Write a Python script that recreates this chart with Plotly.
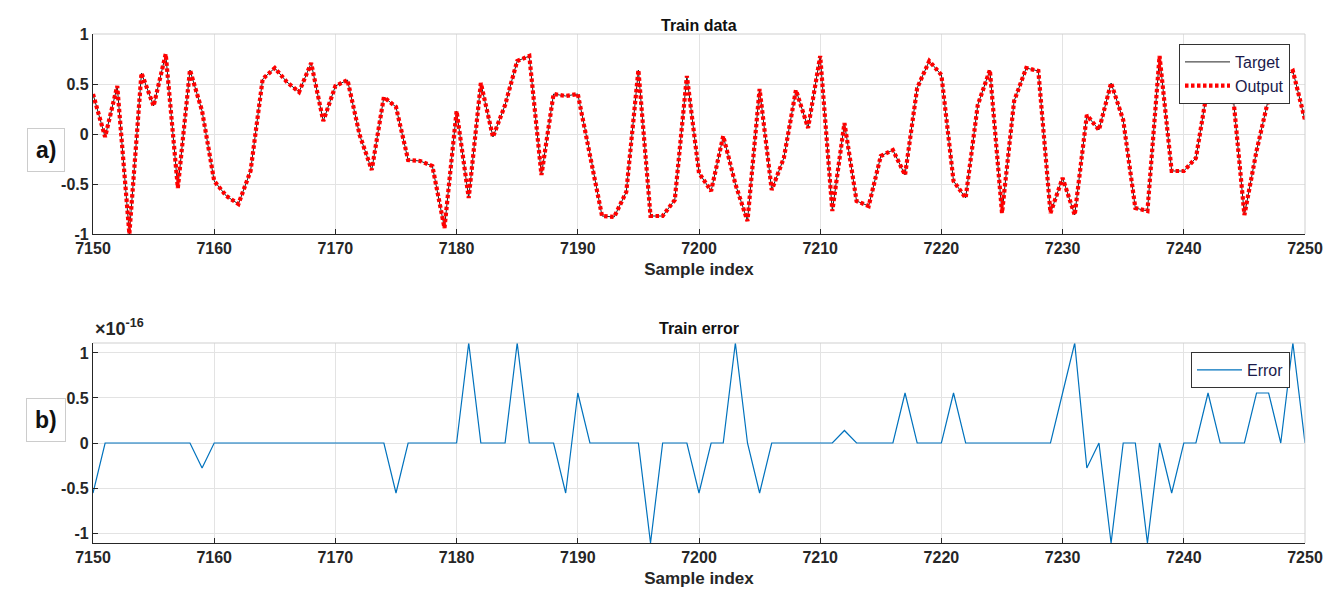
import plotly.graph_objects as go

# ---------------- data ----------------
sample_index = list(range(7150, 7251))

target = [
    0.40, -0.03, 0.48, -1.00, 0.61, 0.28, 0.80, -0.54, 0.64, 0.23,   # 7150-7159
    -0.47, -0.62, -0.70, -0.37, 0.55, 0.66, 0.52, 0.42, 0.71, 0.13,  # 7160-7169
    0.48, 0.54, -0.01, -0.36, 0.37, 0.27, -0.26, -0.27, -0.32, -0.94, # 7170-7179
    0.23, -0.64, 0.51, -0.03, 0.29, 0.73, 0.78, -0.41, 0.40, 0.38,   # 7180-7189
    0.40, -0.19, -0.82, -0.83, -0.58, 0.64, -0.82, -0.82, -0.66, 0.58, # 7190-7199
    -0.39, -0.57, -0.02, -0.50, -0.87, 0.45, -0.56, -0.24, 0.44, 0.06, # 7200-7209
    0.78, -0.77, 0.11, -0.67, -0.72, -0.22, -0.16, -0.41, 0.46, 0.73, # 7210-7219
    0.59, -0.47, -0.64, 0.29, 0.64, -0.79, 0.33, 0.66, 0.63, -0.79,   # 7220-7229
    -0.44, -0.81, 0.19, 0.04, 0.51, 0.14, -0.74, -0.77, 0.78, -0.37,  # 7230-7239
    -0.37, -0.24, 0.49, 0.48, 0.47, -0.81, -0.17, 0.36, 0.56, 0.63,   # 7240-7249
    0.14,                                                             # 7250
]
output = list(target)

# train error, in units of 1e-16
error = [
    -0.555, 0, 0, 0, 0, 0, 0, 0, 0, -0.2776,      # 7150-7159
    0, 0, 0, 0, 0, 0, 0, 0, 0, 0,                # 7160-7169
    0, 0, 0, 0, 0, -0.555, 0, 0, 0, 0,           # 7170-7179
    0, 1.11, 0, 0, 0, 1.11, 0, 0, 0, -0.555,     # 7180-7189
    0.555, 0, 0, 0, 0, 0, -1.11, 0, 0, 0,        # 7190-7199
    -0.555, 0, 0, 1.11, 0, -0.555, 0, 0, 0, 0,  # 7200-7209
    0, 0, 0.139, 0, 0, 0, 0, 0.555, 0, 0,        # 7210-7219
    0, 0.555, 0, 0, 0, 0, 0, 0, 0, 0,            # 7220-7229
    0.555, 1.11, -0.2776, 0, -1.11, 0, 0, -1.11, 0, -0.555,  # 7230-7239
    0, 0, 0.555, 0, 0, 0, 0.555, 0.555, 0, 1.11, # 7240-7249
    0,                                            # 7250
]

x_ticks = list(range(7150, 7251, 10))
y_ticks = [-1, -0.5, 0, 0.5, 1]
y_ticktext = ["-1", "-0.5", "0", "0.5", "1"]

# ---------------- figure ----------------
FONT = "Liberation Sans, Arial, sans-serif"
GRID = "#e3e3e3"
AXIS = "#262626"

fig = go.Figure()

fig.add_trace(go.Scatter(
    x=sample_index, y=target, name="Target", mode="lines",
    line=dict(color="#222222", width=1), xaxis="x", yaxis="y", legend="legend"))
fig.add_trace(go.Scatter(
    x=sample_index, y=output, name="Output", mode="lines",
    line=dict(color="#ff0000", width=4.2, dash="3.5px,2.5px"), xaxis="x", yaxis="y",
    legend="legend"))
fig.add_trace(go.Scatter(
    x=sample_index, y=error, name="Error", mode="lines",
    line=dict(color="#0072BD", width=1.2), xaxis="x2", yaxis="y2", legend="legend2"))

OFF = 8  # page body margin
W, H = 1339 - OFF, 600 - OFF
L, R, T, B = 93 - OFF, 34, 34 - OFF, 57
ph = H - T - B
pw = W - L - R

def py(pix):
    return (H - B - (pix - OFF)) / ph

def px(pix):
    return ((pix - OFF) - L) / pw

axis_common = dict(
    showgrid=True, gridcolor=GRID, gridwidth=1,
    ticks="inside", ticklen=5, tickcolor=AXIS,
    showline=True, linecolor=AXIS, linewidth=1.2,
    zeroline=False,
    tickfont=dict(family=FONT, size=16, color="#262626", weight="bold"),
)

fig.update_layout(
    width=W, height=H,
    margin=dict(l=L, r=R, t=T, b=B),
    paper_bgcolor="white", plot_bgcolor="white",
    showlegend=True,
    xaxis=dict(domain=[0, 1], range=[7150, 7250], tickvals=x_ticks, anchor="y",
               title=dict(text="Sample index", standoff=6,
                          font=dict(family=FONT, size=17, color="#262626", weight="bold")),
               **axis_common),
    yaxis=dict(domain=[py(234), 1], range=[-1, 1], tickvals=y_ticks, ticktext=y_ticktext,
               anchor="x", **axis_common),
    xaxis2=dict(domain=[0, 1], range=[7150, 7250], tickvals=x_ticks, anchor="y2",
                title=dict(text="Sample index", standoff=6,
                           font=dict(family=FONT, size=17, color="#262626", weight="bold")),
                **axis_common),
    yaxis2=dict(domain=[0, py(343)], range=[-1.11, 1.11], tickvals=y_ticks,
                ticktext=y_ticktext, anchor="x2", **axis_common),
    legend=dict(x=px(1290), y=py(44), xanchor="right", yanchor="top",
                bgcolor="white", bordercolor="#333333", borderwidth=1,
                font=dict(family=FONT, size=16, color="#1a1a4a"),
                itemwidth=45, tracegroupgap=0),
    legend2=dict(x=px(1290), y=py(352), xanchor="right", yanchor="top",
                 bgcolor="white", bordercolor="#333333", borderwidth=1,
                 font=dict(family=FONT, size=16, color="#1a1a4a"),
                 itemwidth=45),
)

# light top/right frame edges
for xr, yr in (("x domain", "y domain"), ("x2 domain", "y2 domain")):
    fig.add_shape(type="line", xref=xr, yref=yr, x0=0, x1=1, y0=1, y1=1,
                  line=dict(color="#cfcfcf", width=1))
    fig.add_shape(type="line", xref=xr, yref=yr, x0=1, x1=1, y0=0, y1=1,
                  line=dict(color="#cfcfcf", width=1))

title_font = dict(family=FONT, size=16, color="#111111", weight="bold")
fig.add_annotation(text="Train data", xref="paper", yref="paper", x=0.5, y=py(15),
                   showarrow=False, font=title_font)
fig.add_annotation(text="Train error", xref="paper", yref="paper", x=0.5, y=py(328),
                   showarrow=False, font=title_font)
fig.add_annotation(text="×10<sup>-16</sup>", xref="paper", yref="paper", x=0, y=py(327),
                   xanchor="left", showarrow=False,
                   font=dict(family=FONT, size=18, color="#262626", weight="bold"))

label_font = dict(family=FONT, size=23, color="#111111", weight="bold")
fig.add_annotation(text="a)", xref="paper", yref="paper", x=px(27), y=py(128),
                   showarrow=False, font=label_font, bordercolor="#cccccc",
                   borderwidth=1, borderpad=8, bgcolor="white")
fig.add_annotation(text="b)", xref="paper", yref="paper", x=px(26), y=py(442),
                   showarrow=False, font=label_font, bordercolor="#cccccc",
                   borderwidth=1, borderpad=8, bgcolor="white")

fig.write_html("out.html")
